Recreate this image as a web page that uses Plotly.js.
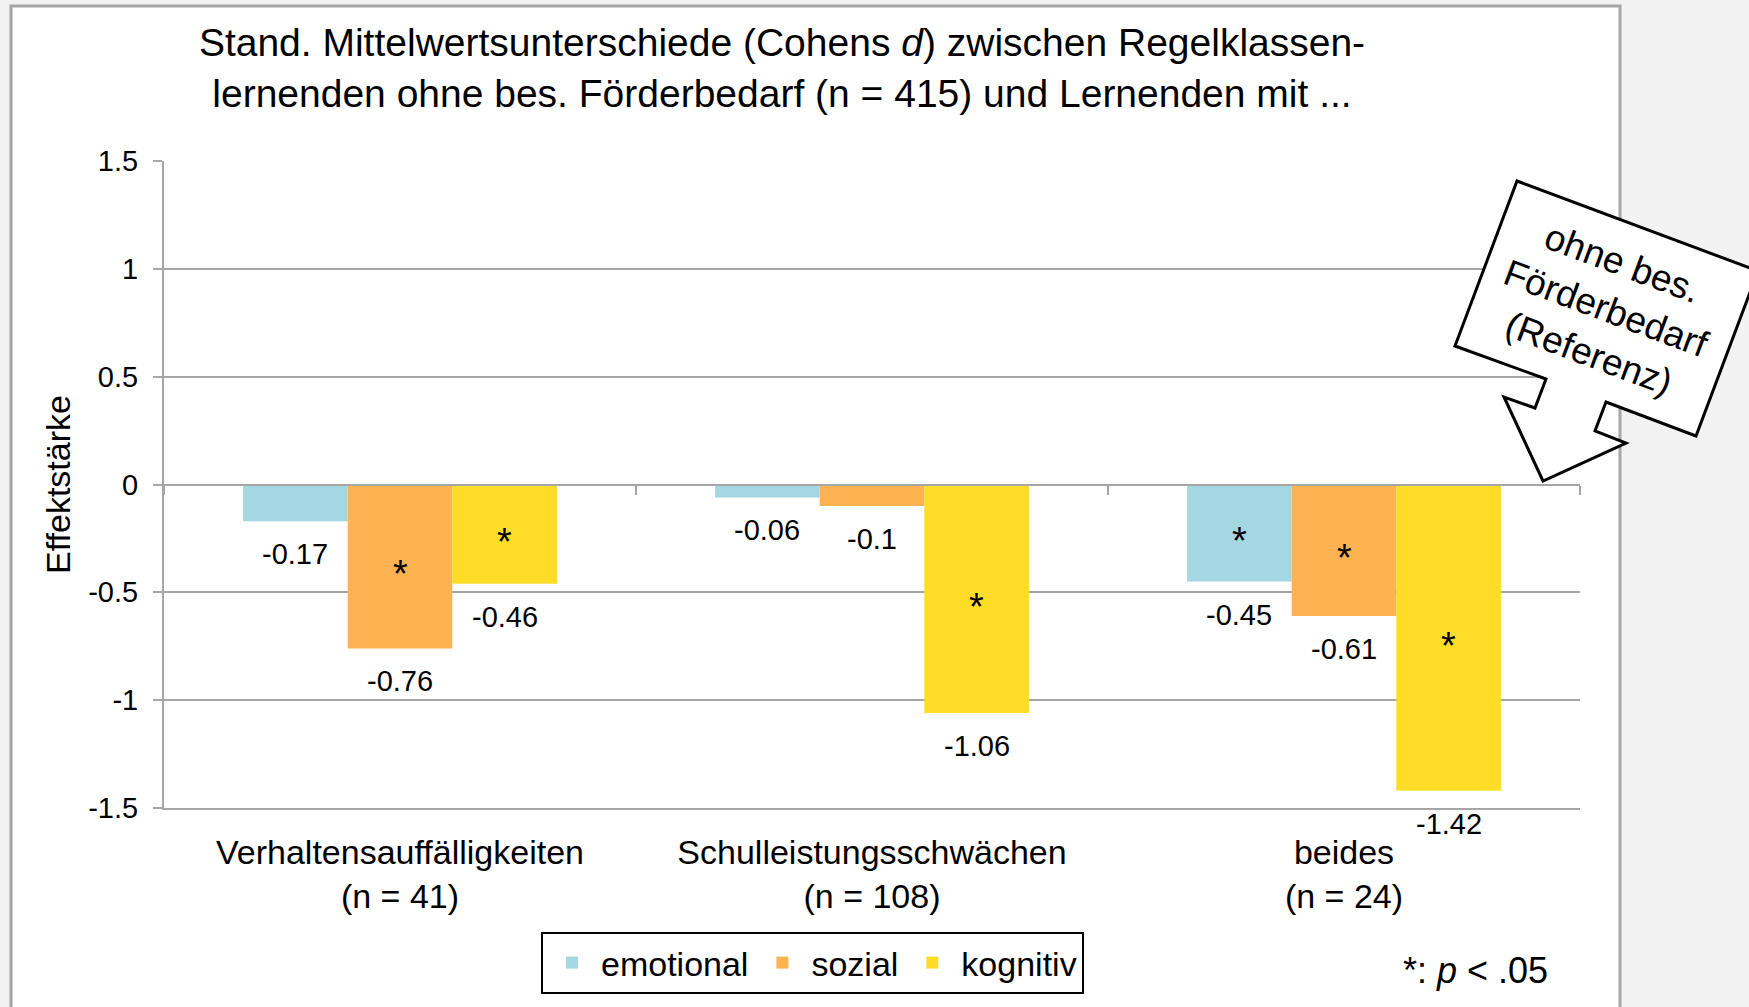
<!DOCTYPE html>
<html>
<head>
<meta charset="utf-8">
<script src="https://cdn.plot.ly/plotly-3.0.1.min.js"></script>
<style>
  html, body { margin: 0; padding: 0; background: #f2f2f2; }
  #chart { width: 1749px; height: 1007px; }
</style>
</head>
<body>
<div id="chart"></div>
<script>
// ---- data ----
const categories = ['Verhaltensauffälligkeiten<br>(n = 41)', 'Schulleistungsschwächen<br>(n = 108)', 'beides<br>(n = 24)'];
const seriesNames = ['emotional', 'sozial', 'kognitiv'];
const emotional = [-0.17, -0.06, -0.45];
const sozial = [-0.76, -0.10, -0.61];
const kognitiv = [-0.46, -1.06, -1.42];
const sigEmotional = [false, false, true];
const sigSozial = [true, false, true];
const sigKognitiv = [true, true, true];
const yTickVals = [-1.5, -1, -0.5, 0, 0.5, 1, 1.5];
const yTickText = ['-1.5', '-1', '-0.5', '0', '0.5', '1', '1.5'];

// ---- style ----
const FONT = 'Liberation Sans, Arial, Helvetica, sans-serif';
const colors = ['#a5d7e3', '#fdb351', '#fddd28'];
const GRID = '#a6a6a6';
const W = 1749, H = 1007;
const M = { l: 164, r: 169, t: 161, b: 199 };
const BARGAP = 0.335;
const plotW = W - M.l - M.r, plotH = H - M.t - M.b;
const px = x => (x - M.l) / plotW;
const py = y => (H - M.b - y) / plotH;

const values = [emotional, sozial, kognitiv];
const sigs = [sigEmotional, sigSozial, sigKognitiv];

const traces = values.map((v, j) => ({
  type: 'bar',
  name: seriesNames[j],
  x: categories,
  y: v,
  marker: { color: colors[j], line: { width: 0 } },
  hoverinfo: 'skip'
}));
// helper trace so the zero-line axis (with category boundary ticks) exists
traces.push({
  type: 'scatter', mode: 'lines', x: categories, y: [null, null, null],
  xaxis: 'x2', yaxis: 'y', showlegend: false, hoverinfo: 'skip'
});

const annotations = [];
const bw = (1 - BARGAP) / 3;
values.forEach((v, j) => {
  v.forEach((val, i) => {
    const xx = i + (j - 1) * bw;
    annotations.push({
      xref: 'x', yref: 'y', x: xx, y: val, text: String(val),
      showarrow: false, yanchor: 'middle', yshift: -33,
      font: { family: FONT, size: 29, color: '#000' }
    });
    if (sigs[j][i]) {
      annotations.push({
        xref: 'x', yref: 'y', x: xx, y: val / 2, text: '*',
        showarrow: false, yanchor: 'middle', yshift: -8,
        font: { family: FONT, size: 38, color: '#000' }
      });
    }
  });
});
annotations.push({
  xref: 'paper', yref: 'paper', x: px(1475), y: py(970), text: '*: <i>p</i> &lt; .05',
  showarrow: false, xanchor: 'center', yanchor: 'middle',
  font: { family: FONT, size: 36, color: '#000' }
});
annotations.push({
  xref: 'paper', yref: 'paper', x: px(1606), y: py(308),
  text: 'ohne bes.<br>Förderbedarf<br>(Referenz)', textangle: 20.5,
  showarrow: false, xanchor: 'center', yanchor: 'middle',
  font: { family: FONT, size: 37, color: '#000' }
});

const callout = [[1517,181],[1758,271],[1696,436],[1606,402],[1595,431],[1626,443],[1543,481],[1504,397],[1535,408],[1546,379],[1455,346]];
const calloutPath = 'M' + callout.map(p => px(p[0]).toFixed(5) + ',' + py(p[1]).toFixed(5)).join(' L') + ' Z';

const layout = {
  width: W, height: H,
  margin: M,
  paper_bgcolor: '#f2f2f2',
  plot_bgcolor: '#ffffff',
  font: { family: FONT, size: 29, color: '#000' },
  barmode: 'group', bargap: BARGAP, bargroupgap: 0,
  title: {
    text: 'Stand. Mittelwertsunterschiede (Cohens <i>d</i>) zwischen Regelklassen-<br>lernenden ohne bes. Förderbedarf (n = 415) und Lernenden mit ...',
    font: { family: FONT, size: 39, color: '#000' },
    x: 782 / W, xanchor: 'center', xref: 'container',
    y: 1 - 56 / H, yanchor: 'middle', yref: 'container'
  },
  xaxis: {
    type: 'category', range: [-0.5, 2.5],
    showline: true, linecolor: GRID, linewidth: 2,
    ticks: '', showgrid: false, zeroline: false,
    tickfont: { family: FONT, size: 34, color: '#000' },
    ticklabelstandoff: 13
  },
  xaxis2: {
    type: 'category', range: [-0.5, 2.5], overlaying: 'x', anchor: 'free', position: 0.5,
    showline: true, linecolor: GRID, linewidth: 2,
    ticks: 'outside', tickson: 'boundaries', ticklen: 9, tickwidth: 2, tickcolor: GRID,
    showticklabels: false, showgrid: false, zeroline: false
  },
  yaxis: {
    range: [-1.5, 1.5], tickvals: yTickVals, ticktext: yTickText,
    showline: true, linecolor: GRID, linewidth: 2,
    ticks: 'outside', ticklen: 9, tickwidth: 2, tickcolor: GRID,
    showgrid: true, gridcolor: GRID, gridwidth: 2, zeroline: false,
    tickfont: { family: FONT, size: 29, color: '#000' },
    ticklabelstandoff: 9,
    title: { text: 'Effektstärke', font: { family: FONT, size: 34, color: '#000' }, standoff: 7 }
  },
  legend: {
    orientation: 'h', x: px(541), y: py(932), xanchor: 'left', yanchor: 'top',
    bordercolor: '#000', borderwidth: 2, bgcolor: '#fff',
    font: { family: FONT, size: 34, color: '#000' },
    traceorder: 'normal', itemwidth: 48
  },
  shapes: [
    { type: 'rect', xref: 'paper', yref: 'paper', x0: px(11), x1: px(1620), y0: py(1030), y1: py(6),
      fillcolor: '#ffffff', line: { color: '#a6a6a6', width: 3 }, layer: 'below' },
    { type: 'path', xref: 'paper', yref: 'paper', path: calloutPath,
      fillcolor: '#ffffff', line: { color: '#000', width: 3 }, layer: 'above' }
  ],
  annotations: annotations,
  showlegend: true
};

Plotly.newPlot('chart', traces, layout, { displayModeBar: false, staticPlot: true });
</script>
</body>
</html>
